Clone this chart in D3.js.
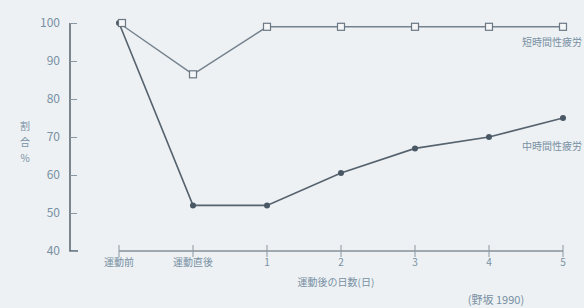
<!DOCTYPE html>
<html>
<head>
<meta charset="utf-8">
<script src="https://cdn.jsdelivr.net/npm/d3@7"></script>
<style>
  body { margin: 0; background: #edf1f3; }
  text { font-family: "Noto Sans CJK JP", sans-serif; fill: #7890a3; }
</style>
</head>
<body>
<div id="chart"></div>
<script>
const categories = ['運動前', '運動直後', '1', '2', '3', '4', '5']
const shortSeries = [100, 86.5, 99, 99, 99, 99, 99]
const longSeries = [100, 52, 52, 60.5, 67, 70, 75]
const yTicks = [40, 50, 60, 70, 80, 90, 100]
const shortLabel = '短時間性疲労'
const longLabel = '中時間性疲労'
const yLabel = ['割', '合', '%']

const width = 584, height = 308
const svg = d3.select('#chart').append('svg')
    .attr('width', width)
    .attr('height', height)
    .style('background', '#edf1f3')

const x = d3.scalePoint().domain(categories).range([119, 563])
const y = d3.scaleLinear().domain([40, 100]).range([251, 23])
const ink = '#56626e'

// y axis
const yAxis = svg.append('g')
    .attr('transform', 'translate(70,0)')
    .call(d3.axisRight(y).tickValues(yTicks).tickSize(7).tickFormat(''))
yAxis.select('.domain').attr('stroke', ink).attr('stroke-width', 1.5)
    .attr('d', 'M0,23V251H8')
yAxis.selectAll('.tick line').attr('stroke', '#8a98a4')
svg.append('g').selectAll('text')
    .data(yTicks)
    .enter().append('text')
        .attr('x', 60)
        .attr('y', d => y(d))
        .attr('dy', '0.35em')
        .attr('text-anchor', 'end')
        .attr('font-size', 12)
        .text(d => d)

// y label, stacked vertically
svg.append('g').selectAll('text')
    .data(yLabel)
    .enter().append('text')
        .attr('x', 25)
        .attr('y', (d, i) => 130 + i * 16)
        .attr('text-anchor', 'middle')
        .attr('font-size', 10)
        .text(d => d)

// x axis
const xAxis = svg.append('g')
    .attr('transform', 'translate(0,251)')
    .call(d3.axisBottom(x).tickSize(0).tickFormat(''))
xAxis.select('.domain').attr('stroke', ink).attr('stroke-width', 1.2)
    .attr('d', 'M' + x(categories[0]) + ',0H' + x(categories[6]))
svg.append('g').selectAll('line')
    .data(categories)
    .enter().append('line')
        .attr('x1', d => x(d)).attr('x2', d => x(d))
        .attr('y1', 245).attr('y2', 257)
        .attr('stroke', '#8a98a4')
svg.append('g').selectAll('text')
    .data(categories)
    .enter().append('text')
        .attr('x', d => x(d))
        .attr('y', 266)
        .attr('text-anchor', 'middle')
        .attr('font-size', 10)
        .text(d => d)

svg.append('text')
    .attr('x', 336).attr('y', 286)
    .attr('text-anchor', 'middle')
    .attr('font-size', 10)
    .text('運動後の日数(日)')

svg.append('text')
    .attr('x', 496).attr('y', 304)
    .attr('text-anchor', 'middle')
    .attr('font-size', 11)
    .text('(野坂  1990)')

// lines
const line = d3.line()
    .x((d, i) => x(categories[i]))
    .y(d => y(d))

svg.append('path')
    .datum(longSeries)
    .attr('d', line)
    .attr('fill', 'none')
    .attr('stroke', ink)
    .attr('stroke-width', 1.6)
svg.append('path')
    .datum(shortSeries)
    .attr('d', line)
    .attr('fill', 'none')
    .attr('stroke', '#75828e')
    .attr('stroke-width', 1.4)

svg.append('g').selectAll('circle')
    .data(longSeries)
    .enter().append('circle')
        .attr('cx', (d, i) => x(categories[i]))
        .attr('cy', d => y(d))
        .attr('r', 3)
        .attr('fill', '#4a5866')

svg.append('g').selectAll('rect')
    .data(shortSeries)
    .enter().append('rect')
        .attr('x', (d, i) => x(categories[i]) - 3.5 + (i === 0 ? 3 : 0))
        .attr('y', d => y(d) - 3.5)
        .attr('width', 7)
        .attr('height', 7)
        .attr('fill', '#f4f6f7')
        .attr('stroke', '#6b7884')
        .attr('stroke-width', 1.2)

// series labels
svg.append('text')
    .attr('x', 582).attr('y', 46)
    .attr('text-anchor', 'end')
    .attr('font-size', 10)
    .text(shortLabel)
svg.append('text')
    .attr('x', 582).attr('y', 150)
    .attr('text-anchor', 'end')
    .attr('font-size', 10)
    .text(longLabel)
</script>
</body>
</html>
